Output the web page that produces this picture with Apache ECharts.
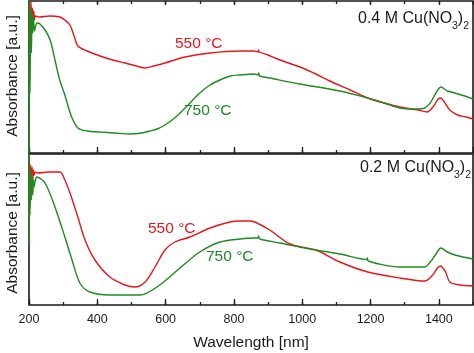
<!DOCTYPE html>
<html>
<head>
<meta charset="utf-8">
<script src="https://cdn.jsdelivr.net/npm/echarts@6/dist/echarts.min.js"></script>
<style>
html,body{margin:0;padding:0;background:#fff;}
#c{width:474px;height:353px;}
</style>
</head>
<body>
<div id="c"></div>
<script>
// ---- Data (wavelength nm, absorbance a.u.) ----
// Top panel: 0.4 M Cu(NO3)2
const top550 = [
  [200,1.10],[202,1.50],[204,1.15],[206,1.52],[208,1.20],[210,1.45],[212,1.28],[214,1.42],[216,1.33],[218,1.37],
  [230,1.36],[260,1.37],[291,1.36],[305,1.33],[320,1.28],[332,1.17],[343,1.07],[370,1.02],[408,0.97],[445,0.93],
  [481,0.90],[515,0.87],[540,0.85],[565,0.87],[598,0.90],[657,0.96],[730,1.00],[817,1.02],[860,1.02],[871,1.01],
  [872,1.03],[875,1.01],[900,0.98],[935,0.93],[993,0.86],[1040,0.79],[1081,0.72],[1140,0.63],[1192,0.55],
  [1240,0.50],[1286,0.46],[1340,0.43],[1365,0.41],[1385,0.47],[1398,0.54],[1406,0.55],[1414,0.52],[1420,0.49],
  [1432,0.43],[1455,0.38],[1480,0.36],[1500,0.34]
];
const top750 = [
  [200,0.00],[201,1.52],[203,0.60],[205,1.45],[207,1.00],[209,1.40],[211,1.20],[213,1.35],[216,1.22],[220,1.28],
  [225,1.30],[232,1.29],[247,1.23],[262,1.13],[276,0.93],[290,0.73],[305,0.58],[316,0.45],[326,0.35],[343,0.25],
  [370,0.22],[408,0.21],[450,0.20],[496,0.19],[530,0.20],[554,0.22],[575,0.24],[598,0.28],[630,0.36],[657,0.45],
  [700,0.60],[730,0.68],[759,0.73],[790,0.77],[817,0.78],[860,0.79],[871,0.78],[872,0.80],[876,0.77],[905,0.75],
  [993,0.69],[1110,0.62],[1192,0.55],[1240,0.50],[1286,0.45],[1330,0.44],[1359,0.45],[1372,0.49],[1380,0.53],
  [1395,0.62],[1406,0.66],[1416,0.64],[1425,0.62],[1447,0.60],[1476,0.57],[1500,0.54]
];
// Bottom panel: 0.2 M Cu(NO3)2
const bot550 = [
  [200,0.85],[201,1.51],[203,1.00],[205,1.40],[207,1.20],[209,1.38],[211,1.25],[213,1.35],[215,1.30],[218,1.33],
  [225,1.32],[260,1.33],[291,1.33],[305,1.25],[320,1.12],[343,0.88],[364,0.65],[393,0.45],[437,0.28],[481,0.20],
  [510,0.18],[540,0.23],[569,0.38],[598,0.55],[627,0.63],[671,0.68],[730,0.77],[788,0.83],[817,0.84],[845,0.84],
  [861,0.83],[905,0.75],[964,0.61],[1040,0.55],[1110,0.43],[1192,0.33],[1286,0.27],[1359,0.24],[1382,0.30],
  [1396,0.37],[1406,0.39],[1414,0.36],[1420,0.33],[1432,0.23],[1461,0.20],[1500,0.19]
];
const bot750 = [
  [200,0.60],[201,1.51],[203,0.90],[205,1.35],[207,1.05],[209,1.30],[211,1.10],[213,1.25],[215,1.18],[218,1.24],
  [223,1.28],[247,1.22],[276,0.98],[305,0.68],[326,0.45],[349,0.22],[378,0.13],[437,0.10],[525,0.10],[583,0.20],
  [642,0.37],[700,0.53],[759,0.63],[817,0.66],[860,0.67],[871,0.67],[872,0.69],[876,0.66],[935,0.62],[1022,0.56],
  [1110,0.51],[1190,0.455],[1191,0.47],[1193,0.44],[1286,0.38],[1359,0.38],[1375,0.43],[1388,0.49],[1406,0.57],
  [1425,0.53],[1447,0.50],[1500,0.46]
];
const xTicksMajor = 200;
const xTicksMinor = 100;
const tempLabels = ['550 °C','750 °C'];
const panelConc = ['0.4 M Cu(NO','0.2 M Cu(NO'];

const RED = '#e8161c', GREEN = '#1f8a1f', INK = '#1a1a1a';
const FONT = '"Liberation Sans", Arial, sans-serif';

function xa(grid, pos, interval, len, labels) {
  return {
    type:'value', gridIndex:grid, position:pos, min:200, max:1500, interval:interval,
    axisLine:{show:false},
    axisTick:{show:true, inside:true, length:len, lineStyle:{color:INK, width:1.3}},
    axisLabel:{show:!!labels, showMaxLabel:false, color:INK, fontSize:12.5, fontFamily:FONT, margin:8,
      formatter:function(v){return String(v);}},
    splitLine:{show:false}
  };
}
function ya(grid, max) {
  return {type:'value', gridIndex:grid, min:0, max:max,
    axisLine:{show:false}, axisTick:{show:false}, axisLabel:{show:false}, splitLine:{show:false}};
}
function line(data, color, xi, yi) {
  return {type:'line', data:data, xAxisIndex:xi, yAxisIndex:yi, symbol:'none', smooth:0.3,
    lineStyle:{color:color, width:1.4}, animation:false, clip:true};
}
function formula(main, x0, topY) {
  return [
    {type:'text', x:x0, y:topY, style:{text:main, fill:INK, font:'16px '+FONT, verticalAlign:'top'}},
    {type:'text', x:x0+94, y:topY+10, style:{text:'3', fill:INK, font:'10.5px '+FONT, verticalAlign:'top'}},
    {type:'text', x:x0+99.8, y:topY, style:{text:')', fill:INK, font:'16px '+FONT, verticalAlign:'top'}},
    {type:'text', x:x0+105.2, y:topY+10, style:{text:'2', fill:INK, font:'10.5px '+FONT, verticalAlign:'top'}}
  ];
}
const chart = echarts.init(document.getElementById('c'), null, {renderer:'canvas'});
chart.setOption({
  animation:false,
  backgroundColor:'#fff',
  grid:[
    {left:29, right:1, top:1, height:152, show:true, borderColor:INK, borderWidth:1.6, backgroundColor:'transparent'},
    {left:29, right:1, top:154, height:151, show:true, borderColor:INK, borderWidth:1.6, backgroundColor:'transparent'}
  ],
  xAxis:[
    xa(0,'bottom',xTicksMajor,6,false),
    xa(0,'bottom',xTicksMinor,3,false),
    xa(0,'top',xTicksMajor,4,false),
    xa(0,'top',xTicksMinor,3,false),
    xa(1,'bottom',xTicksMajor,6,true),
    xa(1,'bottom',xTicksMinor,3,false)
  ],
  yAxis:[ya(0,1.52), ya(1,1.51)],
  series:[
    line(top550, RED, 0, 0),
    line(top750, GREEN, 0, 0),
    line(bot550, RED, 4, 1),
    line(bot750, GREEN, 4, 1)
  ],
  graphic:[
    {type:'text', left:175, top:36, style:{text:tempLabels[0], fill:RED, font:'15.5px '+FONT}},
    {type:'text', left:184, top:103, style:{text:tempLabels[1], fill:GREEN, font:'15.5px '+FONT}},
    {type:'text', left:148, top:221, style:{text:tempLabels[0], fill:RED, font:'15.5px '+FONT}},
    {type:'text', left:206, top:249, style:{text:tempLabels[1], fill:GREEN, font:'15.5px '+FONT}}
  ].concat(formula(panelConc[0], 358, 11), formula(panelConc[1], 360, 160), [
    {type:'text', x:12.5, y:76, rotation:Math.PI/2, style:{text:'Absorbance [a.u.]', fill:INK, font:'15.5px '+FONT, align:'center', verticalAlign:'middle'}},
    {type:'text', x:12.5, y:233, rotation:Math.PI/2, style:{text:'Absorbance [a.u.]', fill:INK, font:'15.5px '+FONT, align:'center', verticalAlign:'middle'}},
    {type:'text', x:251, y:343, style:{text:'Wavelength [nm]', fill:INK, font:'15.5px '+FONT, align:'center', verticalAlign:'middle'}}
  ])
});
</script>
</body>
</html>
